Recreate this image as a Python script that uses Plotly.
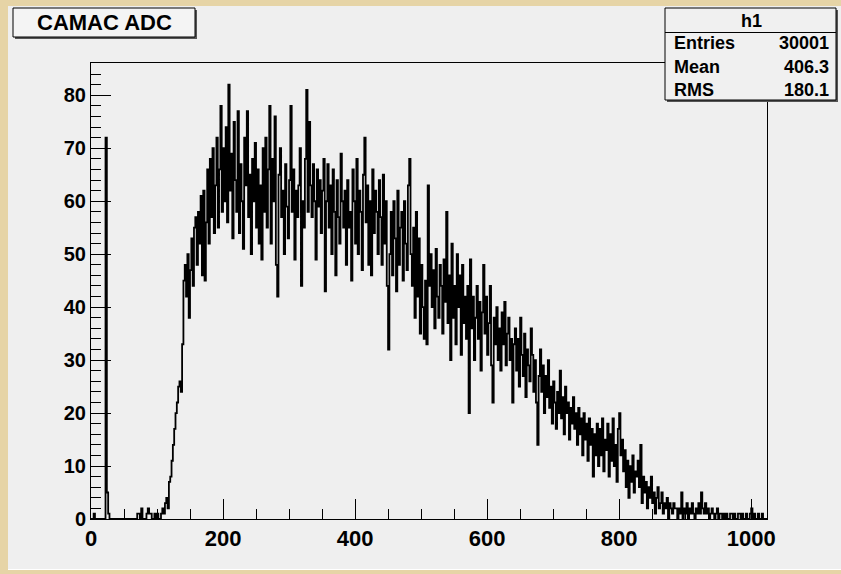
import plotly.graph_objects as go

# ---------------- data ----------------
BIN_WIDTH = 2          # ADC channels per plotted bin
X_MIN, X_MAX = 0, 1024
Y_MAX = 86.1
TITLE = "CAMAC ADC"
HIST_NAME = "h1"
STAT_LABELS = ["Entries", "Mean", "RMS"]
STAT_VALUES = ["30001", "406.3", "180.1"]

# counts per channel, one value per 2-channel bin, rows of 32 channels
counts_0_127 = [
    0, 0, 1, 0, 0, 0, 0, 0, 0, 0, 0, 72, 5, 1, 0, 0,
    0, 0, 0, 0, 0, 0, 0, 0, 0, 0, 0, 0, 0, 0, 0, 0,
    0, 0, 0, 1, 1, 0, 2, 0, 0, 0, 1, 2, 1, 1, 0, 0,
    1, 0, 1, 0, 0, 1, 2, 1, 3, 4, 2, 7, 8, 11, 14, 17,
]
counts_128_255 = [
    20, 22, 25, 26, 24, 33, 45, 48, 42, 50, 38, 47, 53, 44, 55, 57,
    48, 58, 52, 61, 46, 62, 45, 56, 66, 52, 68, 57, 70, 54, 63, 72,
    55, 66, 78, 58, 70, 60, 74, 56, 82, 62, 69, 53, 75, 64, 58, 77,
    54, 67, 60, 51, 72, 63, 77, 57, 65, 50, 68, 60, 71, 55, 66, 52,
]
counts_256_383 = [
    63, 49, 70, 58, 72, 55, 66, 78, 52, 68, 60, 76, 48, 42, 65, 70,
    57, 62, 50, 67, 59, 53, 64, 78, 58, 66, 49, 62, 57, 63, 70, 44,
    60, 55, 68, 81, 58, 75, 63, 57, 67, 60, 49, 66, 59, 64, 54, 62,
    68, 43, 60, 67, 55, 63, 50, 66, 58, 46, 64, 57, 52, 69, 60, 55,
]
counts_384_511 = [
    62, 48, 64, 55, 58, 45, 66, 60, 52, 68, 50, 62, 58, 47, 65, 72,
    56, 63, 48, 60, 46, 66, 54, 62, 58, 50, 64, 57, 48, 65, 52, 60,
    44, 32, 50, 58, 46, 60, 53, 43, 62, 48, 55, 58, 45, 60, 52, 47,
    63, 68, 50, 44, 55, 38, 58, 42, 53, 35, 48, 40, 34, 45, 33, 63,
]
counts_512_639 = [
    44, 50, 40, 47, 36, 51, 42, 38, 48, 44, 35, 49, 41, 58, 37, 46,
    30, 52, 38, 44, 33, 50, 40, 46, 31, 48, 37, 42, 34, 44, 20, 49,
    36, 42, 30, 38, 44, 34, 41, 28, 39, 48, 35, 42, 31, 37, 44, 29,
    22, 38, 33, 40, 30, 36, 28, 39, 33, 41, 29, 35, 38, 30, 34, 22,
]
counts_640_767 = [
    33, 36, 28, 34, 25, 38, 31, 27, 35, 23, 32, 29, 26, 36, 31, 24,
    30, 22, 14, 27, 32, 24, 29, 20, 27, 23, 30, 21, 25, 18, 26, 22,
    17, 24, 20, 28, 19, 23, 16, 25, 20, 22, 15, 21, 18, 23, 17, 20,
    14, 21, 16, 19, 12, 20, 15, 18, 11, 19, 14, 17, 8, 16, 12, 18,
]
counts_768_895 = [
    10, 17, 12, 19, 9, 15, 13, 18, 8, 16, 11, 19, 10, 14, 7, 17,
    20, 12, 15, 9, 13, 6, 11, 4, 10, 7, 12, 5, 9, 8, 11, 6,
    14, 3, 8, 5, 7, 2, 6, 4, 8, 3, 5, 1, 4, 6, 2, 3,
    5, 1, 3, 2, 4, 0, 3, 2, 1, 3, 2, 2, 0, 2, 1, 5,
]
counts_896_1023 = [
    0, 2, 1, 3, 0, 2, 1, 3, 1, 0, 2, 1, 3, 1, 5, 2,
    1, 3, 1, 2, 0, 1, 2, 1, 0, 1, 2, 0, 1, 1, 0, 1,
    0, 1, 0, 0, 1, 1, 0, 1, 0, 0, 1, 1, 0, 1, 0, 0,
    1, 0, 0, 1, 2, 0, 1, 0, 0, 1, 0, 0, 1, 0, 0, 0,
]

counts = (counts_0_127 + counts_128_255 + counts_256_383 + counts_384_511 +
          counts_512_639 + counts_640_767 + counts_768_895 + counts_896_1023)

edges = [X_MIN + BIN_WIDTH * i for i in range(len(counts) + 1)]
yvals = counts + [counts[-1]]

# ---------------- figure ----------------
W, H = 841, 574
L, R, T, B = 91, 767, 63, 519   # frame in pixels


def px(x):
    return (x - L) / (R - L)


def py(y):
    return (B - y) / (B - T)


FONT = "Liberation Sans, Arial, Helvetica, sans-serif"

fig = go.Figure()
fig.add_trace(go.Scatter(
    x=edges, y=yvals, mode="lines", line_shape="hv",
    line=dict(color="black", width=1.8), hoverinfo="skip", showlegend=False,
))

shapes = []
# inner canvas (grey) over beige border
shapes.append(dict(type="rect", xref="paper", yref="paper", layer="below",
                   x0=px(8), x1=px(841), y0=py(6), y1=py(569),
                   fillcolor="#efefef", line=dict(width=0)))
shapes.append(dict(type="line", xref="paper", yref="paper", layer="below",
                   x0=px(8), x1=px(841), y0=py(569.5), y1=py(569.5),
                   line=dict(color="#ffffff", width=1)))

# title box with shadow
shapes.append(dict(type="rect", xref="paper", yref="paper",
                   x0=px(15), x1=px(197), y0=py(10), y1=py(39),
                   fillcolor="#555555", line=dict(width=0)))
shapes.append(dict(type="rect", xref="paper", yref="paper",
                   x0=px(13), x1=px(195), y0=py(8), y1=py(37),
                   fillcolor="#f4f4f4", line=dict(color="black", width=1)))

# stats box with shadow
shapes.append(dict(type="rect", xref="paper", yref="paper",
                   x0=px(667), x1=px(838), y0=py(10), y1=py(102),
                   fillcolor="#555555", line=dict(width=0)))
shapes.append(dict(type="rect", xref="paper", yref="paper",
                   x0=px(665), x1=px(836), y0=py(8), y1=py(100),
                   fillcolor="#f0f0f0", line=dict(color="black", width=1)))
shapes.append(dict(type="line", xref="paper", yref="paper",
                   x0=px(665), x1=px(836), y0=py(32.5), y1=py(32.5),
                   line=dict(color="black", width=1)))

annotations = [
    dict(xref="paper", yref="paper", x=px(104), y=py(22.5), text=f"<b>{TITLE}</b>",
         showarrow=False, xanchor="center", yanchor="middle",
         font=dict(family=FONT, size=22, color="black")),
    dict(xref="paper", yref="paper", x=px(751), y=py(20.5), text=f"<b>{HIST_NAME}</b>",
         showarrow=False, xanchor="center", yanchor="middle",
         font=dict(family=FONT, size=18, color="black")),
]
row_y = [43.5, 66.5, 89.5]
for lab, val, yy in zip(STAT_LABELS, STAT_VALUES, row_y):
    annotations.append(dict(xref="paper", yref="paper", x=px(672), y=py(yy),
                            text=f"<b>{lab}</b>", showarrow=False,
                            xanchor="left", yanchor="middle",
                            font=dict(family=FONT, size=18, color="black")))
    annotations.append(dict(xref="paper", yref="paper", x=px(831), y=py(yy),
                            text=f"<b>{val}</b>", showarrow=False,
                            xanchor="right", yanchor="middle",
                            font=dict(family=FONT, size=18, color="black")))

fig.update_layout(
    width=W, height=H,
    margin=dict(l=L, r=W - R, t=T, b=H - B, pad=0),
    paper_bgcolor="#e6d4a6",
    plot_bgcolor="#efefef",
    shapes=shapes,
    annotations=annotations,
    font=dict(family=FONT, color="black"),
    showlegend=False,
)

fig.update_xaxes(
    range=[X_MIN, X_MAX], showgrid=False, zeroline=False,
    showline=True, mirror=True, linecolor="black", linewidth=1,
    ticks="inside", ticklen=20, tickwidth=1, tickcolor="black",
    tick0=0, dtick=200,
    minor=dict(ticks="inside", ticklen=10, tick0=0, dtick=50, tickcolor="black", showgrid=False),
    tickfont=dict(family=FONT, size=22, color="black"),
    tickprefix="<b>", ticksuffix="</b>",
)
fig.update_yaxes(
    range=[0, Y_MAX], showgrid=False, zeroline=False,
    showline=True, mirror=True, linecolor="black", linewidth=1,
    ticks="inside", ticklen=20, tickwidth=1, tickcolor="black",
    tick0=0, dtick=10,
    minor=dict(ticks="inside", ticklen=10, tick0=0, dtick=2, tickcolor="black", showgrid=False),
    tickfont=dict(family=FONT, size=20, color="black"),
    tickprefix="<b>", ticksuffix="</b>",
)

fig.write_html("out.html", config={"displayModeBar": False},
               post_script="document.body.style.margin='0';")
